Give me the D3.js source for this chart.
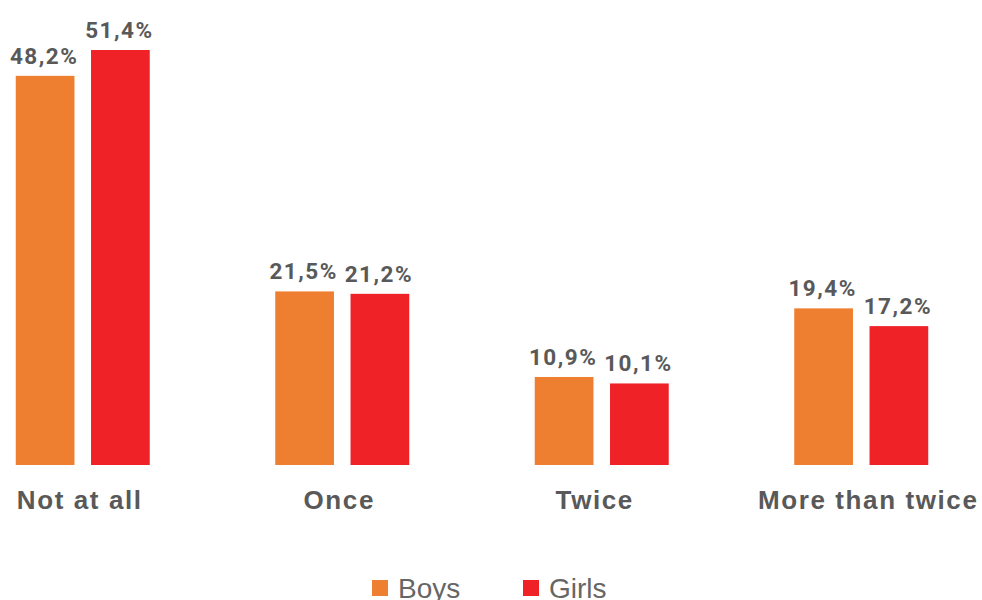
<!DOCTYPE html>
<html>
<head>
<meta charset="utf-8">
<script src="https://cdn.jsdelivr.net/npm/d3@7.9.0/dist/d3.min.js"></script>
<style>
  html, body { margin: 0; padding: 0; background: #fff; }
  svg { display: block; }
  .value { font-family: Roboto, "Liberation Sans", sans-serif; font-weight: 700; font-size: 22.5px; fill: #595959; letter-spacing: 1.5px; }
  .cat { font-family: "Liberation Sans", Arial, sans-serif; font-weight: 700; font-size: 26px; fill: #595959; letter-spacing: 1.6px; }
  .legend { font-family: "Liberation Sans", Arial, sans-serif; font-size: 28px; fill: #666; }
</style>
</head>
<body>
<div id="chart"></div>
<script>
const categories = ['Not at all', 'Once', 'Twice', 'More than twice'];
const series = ['Boys', 'Girls'];
const boys = [48.2, 21.5, 10.9, 19.4];
const girls = [51.4, 21.2, 10.1, 17.2];
const colors = ['#ee7f31', '#ee2227'];

const width = 982;
const height = 600;

const svg = d3.select('#chart')
  .append('svg')
  .attr('width', width)
  .attr('height', height);

const x0 = d3.scaleBand()
  .domain(categories)
  .range([-47, 991])
  .paddingInner(0)
  .paddingOuter(0);

const x1 = d3.scaleBand()
  .domain(series)
  .range([x0.bandwidth() / 2 - 67, x0.bandwidth() / 2 + 67])
  .paddingInner(0.22)
  .paddingOuter(0);

const y = d3.scaleLinear().domain([0, 51.4]).range([465, 50]);

const fmt = (v) => d3.format('.1f')(v).replace('.', ',') + '%';

const rows = categories.map((c, i) => ({ cat: c, values: [boys[i], girls[i]] }));

const groups = svg.append('g')
  .selectAll('g')
  .data(rows)
  .join('g')
  .attr('transform', (d) => `translate(${x0(d.cat)},0)`);

groups.selectAll('rect')
  .data((d) => d.values.map((v, j) => ({ key: series[j], v, j })))
  .join('rect')
  .attr('x', (d) => x1(d.key))
  .attr('y', (d) => y(d.v))
  .attr('width', x1.bandwidth())
  .attr('height', (d) => y(0) - y(d.v))
  .attr('fill', (d) => colors[d.j]);

groups.selectAll('text.value')
  .data((d) => d.values.map((v, j) => ({ key: series[j], v, j })))
  .join('text')
  .attr('class', 'value')
  .attr('x', (d) => x1(d.key) + x1.bandwidth() / 2 - 1)
  .attr('y', (d) => y(d.v) - 12)
  .attr('text-anchor', 'middle')
  .text((d) => fmt(d.v));

groups.append('text')
  .attr('class', 'cat')
  .attr('x', (d, i) => x0.bandwidth() / 2 + [-3, -3, -7, 7][i])
  .attr('y', 509)
  .attr('text-anchor', 'middle')
  .text((d) => d.cat);

// legend
const legendX = d3.scalePoint().domain(series).range([372, 523]);
const legend = svg.append('g')
  .selectAll('g')
  .data(series)
  .join('g')
  .attr('transform', (d) => `translate(${legendX(d)},0)`);

legend.append('rect')
  .attr('x', 0)
  .attr('y', 580)
  .attr('width', 16)
  .attr('height', 16)
  .attr('fill', (d, i) => colors[i]);

legend.append('text')
  .attr('class', 'legend')
  .attr('x', 26)
  .attr('y', 598)
  .text((d) => d);
</script>
</body>
</html>
